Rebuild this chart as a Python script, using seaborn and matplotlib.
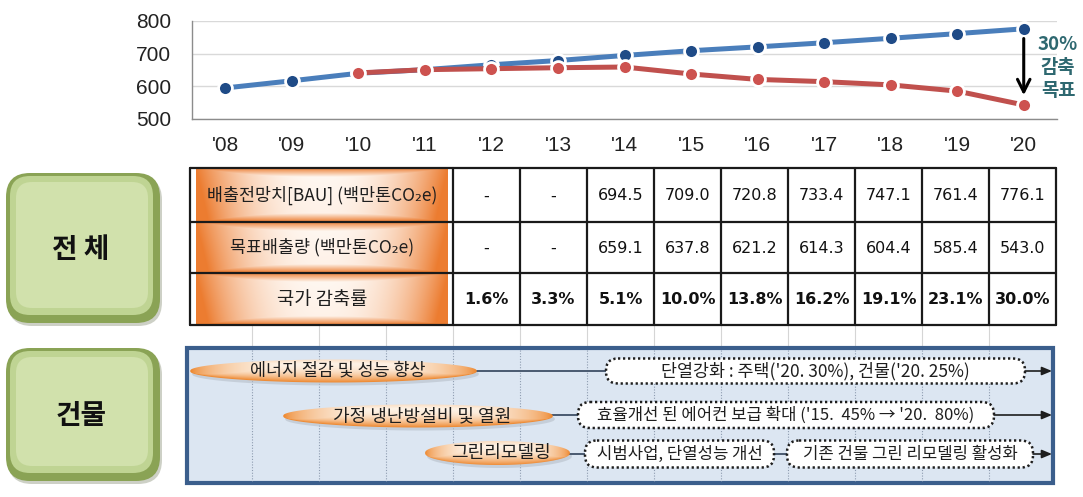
import numpy as np
import pandas as pd
import matplotlib
matplotlib.use("Agg")
import matplotlib.pyplot as plt
import seaborn as sns
from matplotlib.patches import FancyBboxPatch, Rectangle, Polygon
from matplotlib.colors import to_rgb

# ---------------- data ----------------
years = ["'08", "'09", "'10", "'11", "'12", "'13", "'14", "'15", "'16", "'17", "'18", "'19", "'20"]
bau = [595, 617, 640, 651, 666, 679, 694.5, 709.0, 720.8, 733.4, 747.1, 761.4, 776.1]
target = [np.nan, np.nan, 641, 651, 654, 657, 659.1, 637.8, 621.2, 614.3, 604.4, 585.4, 543.0]
y_ticks = [500, 600, 700, 800]
goal_lines = ["30%", "감축", "목표"]

table_labels = ["배출전망치[BAU] (백만톤CO₂e)", "목표배출량 (백만톤CO₂e)", "국가 감축률"]
table_bau = [None, None, 694.5, 709.0, 720.8, 733.4, 747.1, 761.4, 776.1]
table_target = [None, None, 659.1, 637.8, 621.2, 614.3, 604.4, 585.4, 543.0]
table_rate = [1.6, 3.3, 5.1, 10.0, 13.8, 16.2, 19.1, 23.1, 30.0]

section_labels = ["전 체", "건물"]
bldg_programs = ["에너지 절감 및 성능 향상", "가정 냉난방설비 및 열원", "그린리모델링"]
bldg_actions = [["단열강화 : 주택('20. 30%), 건물('20. 25%)"],
                ["효율개선 된 에어컨 보급 확대 ('15.  45% → '20.  80%)"],
                ["시범사업, 단열성능 개선", "기존 건물 그린 리모델링 활성화"]]

# ---------------- style ----------------
sns.set_style("white")
plt.rcParams["font.family"] = ["Noto Sans CJK KR", "DejaVu Sans"]

W, H = 1083, 497
fig = plt.figure(figsize=(W / 100, H / 100), dpi=100)

def fx(x):
    return x / W

def fy(y):
    return 1 - y / H

# ---------------- line chart ----------------
ax = fig.add_axes([fx(192), fy(119), (1057 - 192) / W, (119 - 21) / H])
ax.set_facecolor("none")
df = pd.DataFrame({"pos": np.arange(len(years)), "bau": bau, "target": target})
sns.lineplot(data=df, x="pos", y="bau", ax=ax, color="#4A7EBB", linewidth=3.6,
             marker="o", markersize=10, markerfacecolor="#1F4B87",
             markeredgecolor="white", markeredgewidth=2, zorder=3)
sns.lineplot(data=df.dropna(), x="pos", y="target", ax=ax, color="#C0504D", linewidth=3.6,
             marker="o", markersize=10, markerfacecolor="#CD524F",
             markeredgecolor="white", markeredgewidth=2, zorder=4)
ax.set_xlim(-0.5, len(years) - 0.5)
ax.set_ylim(y_ticks[0], y_ticks[-1])
ax.set_xticks(range(len(years)))
ax.set_xticklabels(years)
ax.set_xticks(np.arange(-0.5, len(years), 1.0), minor=True)
ax.set_yticks(y_ticks)
ax.tick_params(axis="x", which="major", length=0, pad=12, labelsize=15, colors="#222222")
ax.tick_params(axis="x", which="minor", length=4, direction="in", color="#8C8C8C")
ax.tick_params(axis="y", length=0, pad=15, labelsize=15, colors="#222222")
for lab in ax.get_xticklabels() + ax.get_yticklabels():
    lab.set_fontfamily("Liberation Sans")
ax.grid(axis="y", color="#D9D9D9", linewidth=1)
ax.grid(axis="x", visible=False)
ax.set_xlabel("")
ax.set_ylabel("")
for s in ["top", "right"]:
    ax.spines[s].set_visible(False)
for s in ["left", "bottom"]:
    ax.spines[s].set_color("#8C8C8C")
    ax.spines[s].set_linewidth(1)
last = len(years) - 1
ax.annotate("", xy=(last, target[last]), xytext=(last, bau[last]),
            arrowprops=dict(arrowstyle="->,head_length=0.9,head_width=0.45",
                            color="black", lw=2.2, shrinkA=7, shrinkB=7), zorder=6)

# ---------------- overlay (infographic) ----------------
ov = fig.add_axes([0, 0, 1, 1])
ov.patch.set_visible(False)
ov.axis("off")

for i, t in enumerate(goal_lines):
    ov.text(1058, 44 + i * 23.5, t, ha="center", va="center", fontsize=13.5,
            fontweight="bold", color="#2E6870")


def mix(c1, c2, t):
    a = np.array(to_rgb(c1))
    b = np.array(to_rgb(c2))
    return (1 - t)[..., None] * a + t[..., None] * b


def green_box(x0, y0, x1, y1, text):
    ov.add_patch(FancyBboxPatch((x0 + 2, y0 + 3), x1 - x0, y1 - y0,
                                boxstyle="round,pad=0,rounding_size=24",
                                facecolor="#CDD0C6", edgecolor="none", zorder=1))
    ov.add_patch(FancyBboxPatch((x0, y0), x1 - x0, y1 - y0,
                                boxstyle="round,pad=0,rounding_size=24",
                                facecolor="#8AA355", edgecolor="none", zorder=2))
    ov.add_patch(FancyBboxPatch((x0 + 4, y0 + 3), x1 - x0 - 11, y1 - y0 - 11,
                                boxstyle="round,pad=0,rounding_size=20",
                                facecolor="#BFD493", edgecolor="none", zorder=3))
    ov.add_patch(FancyBboxPatch((x0 + 10, y0 + 9), x1 - x0 - 22, y1 - y0 - 24,
                                boxstyle="round,pad=0,rounding_size=16",
                                facecolor="#D1E1AC", edgecolor="none", zorder=3))
    ov.text((x0 + x1) / 2 - 2, (y0 + y1) / 2 + 2, text, ha="center", va="center",
            fontsize=20, fontweight="bold", color="#111111", zorder=4)


green_box(6, 173, 160, 323, section_labels[0])
green_box(6, 348, 160, 481, section_labels[1])

# ---------------- table ----------------
tab_left, head_right, col_w = 190, 453, 67.0
row_edges = [168, 222, 273, 325]
ncol = len(table_rate)
col_edges = [head_right + col_w * k for k in range(ncol + 1)]
tab_right = col_edges[-1]

# faint background column lines (continuing below the table)
grid_x = [head_right - col_w * k for k in (3, 2, 1)] + col_edges[:-1]
for gx in grid_x:
    ov.plot([gx, gx], [325, 348], color="#D5D5D5", lw=0.8, zorder=1)

ov.add_patch(Rectangle((tab_left, row_edges[0]), tab_right - tab_left,
                       row_edges[-1] - row_edges[0], facecolor="white",
                       edgecolor="none", zorder=2))


def bevel_img(w, h, c_mid, c_edge, bevel=8):
    X, Y = np.meshgrid(np.arange(w) + 0.5, np.arange(h) + 0.5)
    u = np.abs(X / w - 0.5) * 2
    base = u ** 2.4
    d = np.minimum.reduce([X, w - X, Y, h - Y])
    bev = np.clip(1 - d / bevel, 0, 1)
    vshade = (Y / h) * 0.2
    t = np.clip(np.maximum(base, bev * 0.85) + vshade * (0.3 + base), 0, 1)
    return mix(c_mid, c_edge, t)


row_texts = [
    ["-" if v is None else f"{v:.1f}" for v in table_bau],
    ["-" if v is None else f"{v:.1f}" for v in table_target],
    [f"{v:.1f}%" for v in table_rate],
]
for r in range(3):
    y0, y1 = row_edges[r], row_edges[r + 1]
    hx0, hx1 = tab_left + 6, head_right - 5
    img = bevel_img(int(hx1 - hx0), int(y1 - y0 - 2), "#FFF8F2", "#EC7C30")
    ov.imshow(img, extent=[hx0, hx1, y1 - 1, y0 + 1], aspect="auto", zorder=3,
              interpolation="bilinear")
    ov.text((hx0 + hx1) / 2, (y0 + y1) / 2, table_labels[r], ha="center", va="center",
            fontsize=12.5 if r < 2 else 13.5, color="#1E1E1E", zorder=5)
    for c in range(ncol):
        ov.text((col_edges[c] + col_edges[c + 1]) / 2, (y0 + y1) / 2 + 1, row_texts[r][c],
                ha="center", va="center", fontsize=11.5, family=["DejaVu Sans"],
                fontweight="bold" if r == 2 else "normal", color="#111111", zorder=5)

for ry in row_edges:
    ov.plot([tab_left, tab_right], [ry, ry], color="#1A1A1A", lw=1.6, zorder=4)
for cx in [tab_left] + col_edges:
    ov.plot([cx, cx], [row_edges[0], row_edges[-1]], color="#1A1A1A", lw=1.6, zorder=4)

# ---------------- building roadmap box ----------------
bx0, bx1, by0, by1 = 187, 1053, 348, 483
ov.add_patch(Rectangle((bx0, by0), bx1 - bx0, by1 - by0, facecolor="#DCE6F2",
                       edgecolor="#3B5E8C", lw=3, zorder=2))
for gx in grid_x:
    ov.plot([gx, gx], [by0 + 2, by1 - 2], color="#8E9CB0", lw=0.8, ls=(0, (1, 1.5)), zorder=2.5)


def lens(x0, x1, yc, hh, text, fs):
    n = 300
    t = np.linspace(0, 1, n)
    xs = x0 + (x1 - x0) * t
    prof = np.sin(np.pi * t) ** 0.45
    verts = np.concatenate([np.c_[xs, yc - hh * prof], np.c_[xs[::-1], (yc + hh * prof)[::-1]]])
    poly = Polygon(verts, closed=True, facecolor="none", edgecolor="none", zorder=3)
    ov.add_patch(poly)
    sh = Polygon(verts + np.array([2, 3]), closed=True, facecolor="#B7BFC9",
                 edgecolor="none", alpha=0.6, zorder=2.8)
    ov.add_patch(sh)
    w = int(x1 - x0)
    h = int(2 * hh) + 2
    X, Y = np.meshgrid(np.arange(w) + 0.5, np.arange(h) + 0.5)
    tt = X / w
    p = np.sin(np.pi * tt) ** 0.45 + 1e-3
    r = np.clip((Y - h / 2) / (hh * p), -1, 1)
    v = 0.08 + 0.9 * ((r + 1) / 2) ** 2.6 + 0.2 * (r < -0.6) * (-r - 0.6) / 0.4
    v = np.maximum(v, (1 - p) * 1.2)
    v = np.clip(v, 0, 1)
    img = mix("#FFFDF8", "#EE8A33", v)
    im = ov.imshow(img, extent=[x0, x1, yc + h / 2, yc - h / 2], aspect="auto",
                   zorder=3, interpolation="bilinear")
    im.set_clip_path(poly)
    ov.text((x0 + x1) / 2 + 4, yc, text, ha="center", va="center", fontsize=fs,
            color="#1E1E1E", zorder=4)


def dotted_box(x0, x1, yc, h, text, fs):
    ov.add_patch(FancyBboxPatch((x0, yc - h / 2), x1 - x0, h,
                                boxstyle="round,pad=0,rounding_size=12",
                                facecolor="white", edgecolor="#1E1E1E", lw=1.8,
                                ls=(0, (0.9, 1.1)), zorder=4))
    ov.text((x0 + x1) / 2, yc, text, ha="center", va="center", fontsize=fs,
            color="#1E1E1E", zorder=5)


def right_arrow(x0, x1, yc):
    ov.annotate("", xy=(x1, yc), xytext=(x0, yc),
                arrowprops=dict(arrowstyle="-|>,head_length=0.6,head_width=0.25",
                                color="#1E1E1E", lw=1.2, shrinkA=0, shrinkB=0), zorder=5)


def connector(x0, x1, yc):
    ov.plot([x0, x1], [yc, yc], color="#4A5A70", lw=1.4, zorder=2.9)


# row 1
connector(470, 606, 371)
lens(190, 477, 371, 11.5, bldg_programs[0], 12.5)
dotted_box(606, 1025, 371, 25, bldg_actions[0][0], 12.5)
right_arrow(1025, 1052, 371)
# row 2
connector(545, 578, 415)
lens(283, 553, 416, 11.5, bldg_programs[1], 13)
dotted_box(578, 994, 415, 26, bldg_actions[1][0], 12)
right_arrow(994, 1052, 415)
# row 3
connector(565, 585, 454)
lens(425, 570, 453, 12, bldg_programs[2], 13)
dotted_box(585, 774, 454, 27, bldg_actions[2][0], 12)
connector(774, 787, 454)
dotted_box(787, 1033, 454, 27, bldg_actions[2][1], 12)
right_arrow(1033, 1052, 454)

ov.set_xlim(0, W)
ov.set_ylim(H, 0)

fig.savefig("out.png", dpi=100)
